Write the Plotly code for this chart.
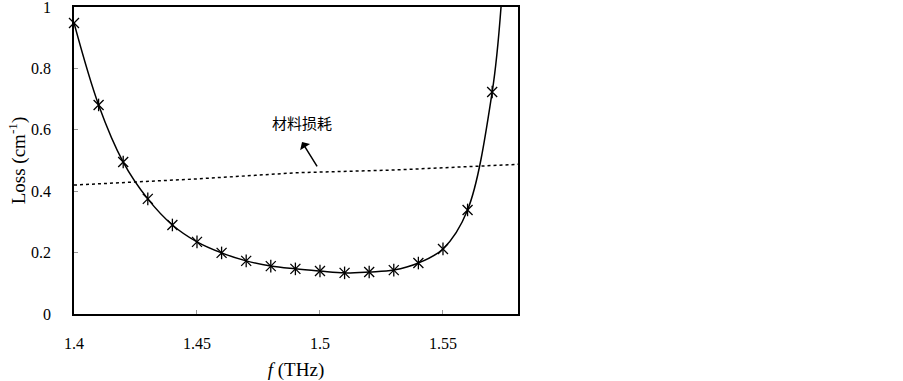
import plotly.graph_objects as go

freq = [1.40, 1.41, 1.42, 1.43, 1.44, 1.45, 1.46, 1.47, 1.48, 1.49,
        1.50, 1.51, 1.52, 1.53, 1.54, 1.55, 1.56, 1.57]
loss = [0.948, 0.681, 0.495, 0.375, 0.290, 0.235, 0.199, 0.173, 0.156, 0.147,
        0.140, 0.134, 0.137, 0.143, 0.166, 0.212, 0.339, 0.723]
# fitted curve continuation beyond last sample
curve_x = freq + [1.5736]
curve_y = loss + [1.0]

mat_freq = [1.40, 1.45, 1.49, 1.53, 1.582]
mat_loss = [0.420, 0.440, 0.460, 0.469, 0.488]

xticks = [1.4, 1.45, 1.5, 1.55]
yticks = [0, 0.2, 0.4, 0.6, 0.8, 1]

font = "Liberation Serif"

fig = go.Figure()
fig.add_trace(go.Scatter(x=mat_freq, y=mat_loss, mode="lines",
                         line=dict(color="black", width=1.5, dash="dot"),
                         cliponaxis=False, showlegend=False))
fig.add_trace(go.Scatter(x=curve_x, y=curve_y, mode="lines", line_shape="spline",
                         line=dict(color="black", width=1.5),
                         showlegend=False))
fig.add_trace(go.Scatter(x=freq, y=loss, mode="markers",
                         marker=dict(symbol="x-thin-open", size=10, color="black",
                                     line=dict(color="black", width=1.3)),
                         cliponaxis=False, showlegend=False))
fig.add_trace(go.Scatter(x=freq[1:], y=loss[1:], mode="markers",
                         marker=dict(symbol="line-ns-open", size=9, color="black",
                                     line=dict(color="black", width=1.3)),
                         cliponaxis=False, showlegend=False))

fig.add_annotation(x=1.4927, y=0.56, xref="x", yref="y",
                   ax=1.4992, ay=0.476, axref="x", ayref="y",
                   text="", showarrow=True, arrowhead=1, arrowsize=1.3,
                   arrowwidth=1.5, arrowcolor="black", standoff=0)
fig.add_annotation(x=1.4927, y=0.624, xref="x", yref="y", text="材料损耗",
                   showarrow=False,
                   font=dict(family="Noto Sans CJK SC", size=15, color="black"))

fig.update_layout(
    width=903, height=381,
    margin=dict(l=74, r=385, t=7, b=67),
    plot_bgcolor="white", paper_bgcolor="white",
    font=dict(family=font, size=16, color="black"),
    xaxis=dict(range=[1.4, 1.5805], tickvals=xticks,
               ticktext=["1.4", "1.45", "1.5", "1.55"],
               showgrid=False, zeroline=False, showline=True, mirror=True,
               linecolor="black", linewidth=1.5, automargin=False,
               ticks="inside", ticklen=4, tickcolor="#999",
               ticklabelstandoff=14, ticklabeloverflow="allow",
               title=dict(text="<i>f</i> (THz)", standoff=14,
                          font=dict(family=font, size=19))),
    yaxis=dict(range=[0, 1], tickvals=yticks,
               ticktext=["0", "0.2", "0.4", "0.6", "0.8", "1"],
               showgrid=False, zeroline=False, showline=True, mirror=True,
               linecolor="black", linewidth=1.5, automargin=False,
               ticks="inside", ticklen=4, tickcolor="#999",
               ticklabelstandoff=18, ticklabeloverflow="allow",
               title=dict(text="Loss (cm<sup>-1</sup>)", standoff=0,
                          font=dict(family=font, size=19))),
)

fig.write_html("out.html", config={"displayModeBar": False},
               post_script="document.body.style.margin='0';document.body.style.overflow='hidden';")
